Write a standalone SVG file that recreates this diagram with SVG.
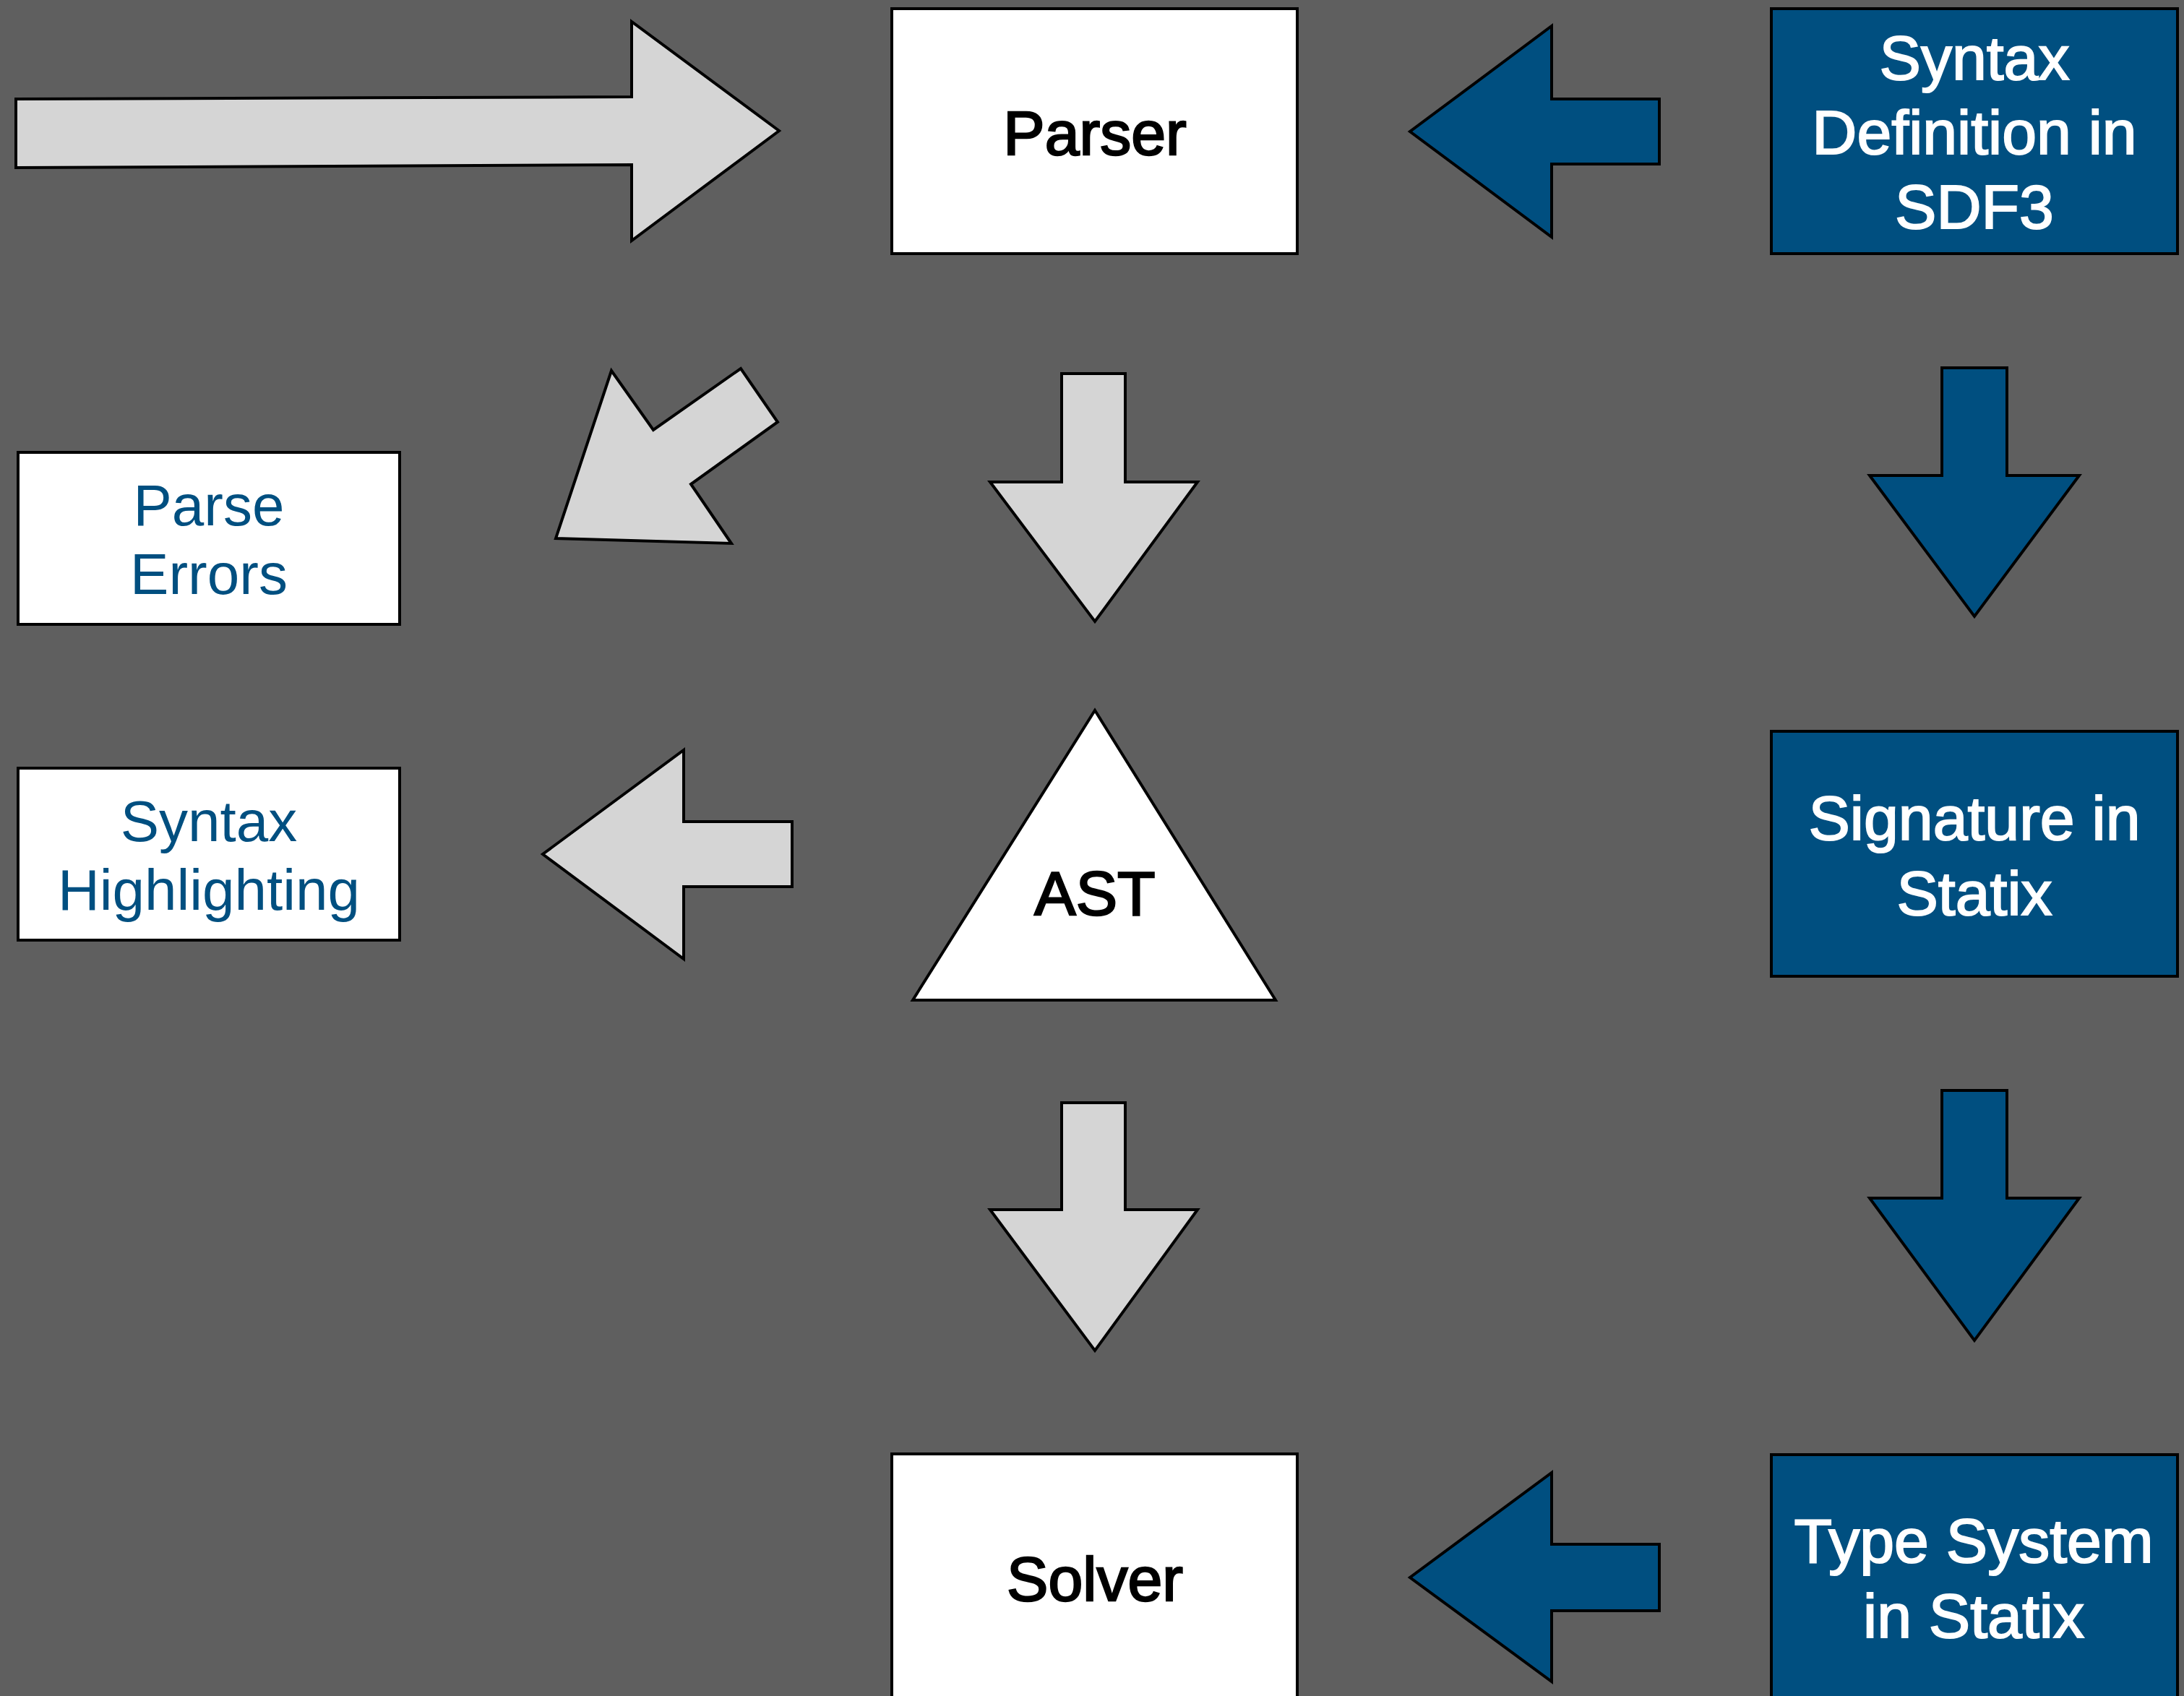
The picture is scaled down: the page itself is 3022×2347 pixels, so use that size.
<svg xmlns="http://www.w3.org/2000/svg" width="3022" height="2347" viewBox="0 0 3022 2347">
  <style>
    .bg { fill: #5f5f5f; }
    .box { fill: #ffffff; stroke: #000000; stroke-width: 4; }
    .boxBlue { fill: #004f80; stroke: #000000; stroke-width: 4; }
    .arrowGrey { fill: #d5d5d5; stroke: #000000; stroke-width: 4; stroke-linejoin: miter; }
    .arrowBlue { fill: #004f80; stroke: #000000; stroke-width: 4; stroke-linejoin: miter; }
    .lblDark { font-family: "Liberation Sans", Arial, Helvetica, sans-serif; font-size: 86px; fill: #000000; stroke: #000000; stroke-width: 2.5; text-anchor: middle; }
    .lblWhite { font-family: "Liberation Sans", Arial, Helvetica, sans-serif; font-size: 86px; fill: #ffffff; stroke: #ffffff; stroke-width: 2; text-anchor: middle; }
    .lblBlue { font-family: "Liberation Sans", Arial, Helvetica, sans-serif; font-size: 80px; fill: #004f80; text-anchor: middle; }
  </style>

  <rect class="bg" x="0" y="0" width="3022" height="2347"/>

  <!-- connectors: block arrows -->
  <g id="connectors">
    <!-- source input into the parser -->
    <polygon id="arrow-input-parser" class="arrowGrey" points="22,137 874,134 874,30 1078,181 874,333 874,228 22,232"/>
    <!-- SDF3 definition feeds the parser -->
    <polygon id="arrow-sdf3-parser" class="arrowBlue" points="2296,137 2147,137 2147,36 1951,182 2147,328 2147,227 2296,227"/>
    <!-- parser emits parse errors -->
    <polygon id="arrow-parser-errors" class="arrowGrey" points="846,513 904,595 1025,510 1076,584 956,670 1012,752 769,745"/>
    <!-- parser produces the AST -->
    <polygon id="arrow-parser-ast" class="arrowGrey" points="1469,517 1557,517 1557,667 1657,667 1515,860 1370,667 1469,667"/>
    <!-- SDF3 generates the Statix signature -->
    <polygon id="arrow-sdf3-signature" class="arrowBlue" points="2687,509 2777,509 2777,658 2877,658 2732,853 2587,658 2687,658"/>
    <!-- AST drives syntax highlighting -->
    <polygon id="arrow-ast-highlighting" class="arrowGrey" points="1096,1137 946,1137 946,1038 751,1182 946,1327 946,1227 1096,1227"/>
    <!-- AST handed to the solver -->
    <polygon id="arrow-ast-solver" class="arrowGrey" points="1469,1526 1557,1526 1557,1674 1657,1674 1515,1869 1370,1674 1469,1674"/>
    <!-- signature used by the type system -->
    <polygon id="arrow-signature-typesystem" class="arrowBlue" points="2687,1509 2777,1509 2777,1658 2877,1658 2732,1855 2587,1658 2687,1658"/>
    <!-- type system feeds the solver -->
    <polygon id="arrow-typesystem-solver" class="arrowBlue" points="2296,2137 2147,2137 2147,2038 1951,2183 2147,2327 2147,2229 2296,2229"/>
  </g>

  <g id="node-parser">
    <rect class="box" x="1234" y="12" width="561" height="339"/>
    <text class="lblDark" x="1515" y="214">Parser</text>
  </g>

  <g id="node-sdf3">
    <rect class="boxBlue" x="2451" y="12" width="562" height="339"/>
    <text class="lblWhite" x="2732" y="110">Syntax</text>
    <text class="lblWhite" x="2732" y="213">Definition in</text>
    <text class="lblWhite" x="2732" y="316">SDF3</text>
  </g>

  <g id="node-parse-errors">
    <rect class="box" x="25" y="626" width="528" height="238"/>
    <text class="lblBlue" x="289" y="727">Parse</text>
    <text class="lblBlue" x="289" y="822">Errors</text>
  </g>

  <g id="node-syntax-highlighting">
    <rect class="box" x="25" y="1063" width="528" height="238"/>
    <text class="lblBlue" x="289" y="1164">Syntax</text>
    <text class="lblBlue" x="289" y="1259">Highlighting</text>
  </g>

  <g id="node-ast">
    <polygon class="box" points="1515,983 1765,1384 1263,1384"/>
    <text class="lblDark" x="1515" y="1266">AST</text>
  </g>

  <g id="node-signature">
    <rect class="boxBlue" x="2451" y="1012" width="562" height="339"/>
    <text class="lblWhite" x="2732" y="1162">Signature in</text>
    <text class="lblWhite" x="2732" y="1266">Statix</text>
  </g>

  <g id="node-solver">
    <rect class="box" x="1234" y="2012" width="561" height="345"/>
    <text class="lblDark" x="1515" y="2215">Solver</text>
  </g>

  <g id="node-type-system">
    <rect class="boxBlue" x="2451" y="2013" width="562" height="345"/>
    <text class="lblWhite" x="2731" y="2162">Type System</text>
    <text class="lblWhite" x="2731" y="2266">in Statix</text>
  </g>
</svg>
